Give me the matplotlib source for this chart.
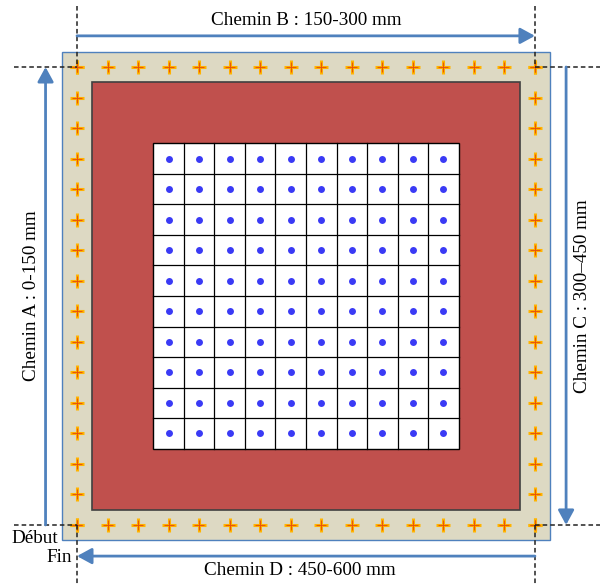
import matplotlib
matplotlib.use("Agg")
import matplotlib.pyplot as plt
from matplotlib.patches import Rectangle
import numpy as np

# ---- data ----
n_sensors_side = 16            # '+' markers per side of the square path
grid_n = 10                    # 10 x 10 cells in the centre
path_labels = ["Chemin A : 0-150 mm", "Chemin B : 150-300 mm",
               "Chemin C : 300\u2013450 mm", "Chemin D : 450-600 mm"]
start_label = "Début"
end_label = "Fin"

# ---- colours ----
beige = "#DDD9C3"
red = "#C0504D"
blue_arrow = "#4F81BD"
dot_blue = "#3A3AF5"

fig = plt.figure(figsize=(6.0, 5.84), dpi=100)
ax = fig.add_axes([0, 0, 1, 1])
sp = 30.53
ax.set_xlim(-77 / sp, (600 - 77) / sp)
ax.set_ylim((584 - 67) / sp, -67 / sp)
ax.axis("off")

last = n_sensors_side - 1
# outer beige band
ax.add_patch(Rectangle((-0.5, -0.5), last + 1, last + 1, facecolor=beige,
                       edgecolor=blue_arrow, lw=1.0, zorder=1))
# red square
ax.add_patch(Rectangle((0.5, 0.5), last - 1, last - 1, facecolor=red,
                       edgecolor="#404040", lw=1.2, zorder=2))
# white grid
g0 = (last - grid_n) / 2.0
ax.add_patch(Rectangle((g0, g0), grid_n, grid_n, facecolor="white",
                       edgecolor="black", lw=1.0, zorder=3))
for k in range(1, grid_n):
    ax.plot([g0 + k, g0 + k], [g0, g0 + grid_n], color="black", lw=0.9, zorder=4)
    ax.plot([g0, g0 + grid_n], [g0 + k, g0 + k], color="black", lw=0.9, zorder=4)
cx, cy = np.meshgrid(np.arange(grid_n) + g0 + 0.5, np.arange(grid_n) + g0 + 0.5)
ax.plot(cx.ravel(), cy.ravel(), "o", color=dot_blue, ms=5, mew=0, zorder=5)

# perimeter '+' markers
idx = np.arange(n_sensors_side)
px = np.concatenate([idx, idx, np.zeros(n_sensors_side), np.full(n_sensors_side, last)])
py = np.concatenate([np.zeros(n_sensors_side), np.full(n_sensors_side, last), idx, idx])
ax.plot(px, py, "+", color="#FFB400", ms=9.5, mew=2.2, zorder=6)
ax.plot(px, py, "+", color="#E8560A", ms=7.5, mew=0.8, zorder=7)

# dashed guide lines
dk = dict(color="#222222", lw=1.1, ls=(0, (3, 2)), zorder=8)
bot = (584 - 67) / sp
right = (600 - 77) / sp
ax.plot([0, 0], [-2.0, 0], **dk)
ax.plot([last, last], [-2.0, 0], **dk)
ax.plot([-2.05, 0], [0, 0], **dk)
ax.plot([last, right], [0, 0], **dk)
ax.plot([-2.05, 0], [last, last], **dk)
ax.plot([last, right], [last, last], **dk)
ax.plot([0, 0], [last, bot], **dk)
ax.plot([last, last], [last, bot], **dk)

# arrows
ap = dict(arrowstyle="-|>,head_length=0.55,head_width=0.3", color=blue_arrow,
          lw=2.0, shrinkA=0, shrinkB=0, mutation_scale=16)
ax.annotate("", xy=(-1.03, 0), xytext=(-1.03, last), arrowprops=ap, zorder=9)
ax.annotate("", xy=(last, -1.02), xytext=(0, -1.02), arrowprops=ap, zorder=9)
ax.annotate("", xy=(16.02, last), xytext=(16.02, 0), arrowprops=ap, zorder=9)
ax.annotate("", xy=(0, 16.02), xytext=(last, 16.02), arrowprops=ap, zorder=9)

# texts
tk = dict(family="Liberation Serif", fontsize=13.8, color="black")
ax.text(-1.5, 7.5, path_labels[0], rotation=90, ha="center", va="center", **tk)
ax.text(7.5, -1.52, path_labels[1], ha="center", va="center", **tk)
ax.text(16.57, 7.5, path_labels[2], rotation=90, ha="center", va="center", **tk)
ax.text(7.3, 16.5, path_labels[3], ha="center", va="center", **tk)
ax.text(-0.62, 15.46, start_label, ha="right", va="center", **tk)
ax.text(-0.16, 16.05, end_label, ha="right", va="center", **tk)

fig.savefig("out.png", dpi=100)
